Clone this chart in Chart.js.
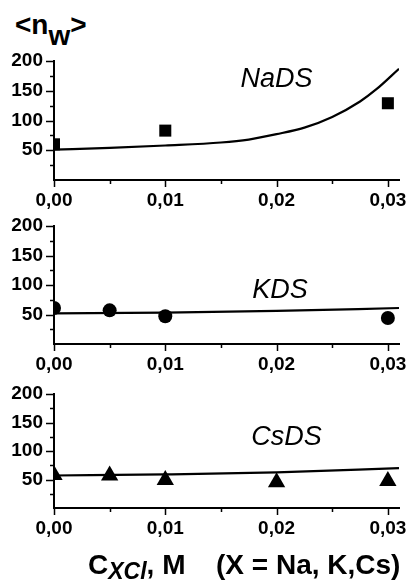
<!DOCTYPE html>
<html>
<head>
<meta charset="utf-8">
<script src="https://cdn.jsdelivr.net/npm/chart.js@4.4.1/dist/chart.umd.min.js"></script>
<style>
  body { margin: 0; background: #fff; }
  #wrap { position: relative; width: 409px; height: 582px; overflow: hidden;
          font-family: "Liberation Sans", Arial, sans-serif; color: #000; }
  canvas { position: absolute; left: 0; }
  .ytitle { position: absolute; left: 15px; top: 11px; font-size: 28px; line-height: 28px; font-weight: bold; white-space: nowrap; }
  .ytitle .sub { position: relative; top: 11px; }
  .xtitle { position: absolute; top: 551px; font-size: 28px; line-height: 28px; font-weight: bold; white-space: nowrap; }
  .xtitle .sub { font-size: 23px; font-style: italic; position: relative; top: 5px; }
</style>
</head>
<body>
<div id="wrap">
  <div class="ytitle">&lt;n<span class="sub">w</span>&gt;</div>
  <canvas id="na" width="409" height="215" style="top:0px"></canvas>
  <canvas id="k" width="409" height="165" style="top:215px"></canvas>
  <canvas id="cs" width="409" height="202" style="top:380px"></canvas>
  <div class="xtitle" style="left:88px">C<span class="sub">XCl</span>, M</div>
  <div class="xtitle" style="left:216px">(X = Na, K,Cs)</div>
</div>
<script>
// salt concentration, M
const naConc = [0, 0.01, 0.03];
const naNw = [60, 83, 129];
const naFitConc = [0, 0.005, 0.01, 0.015, 0.0175, 0.02, 0.0225, 0.025, 0.0275, 0.029, 0.031];
const naFitNw = [51, 54, 58, 63, 68, 77, 88, 106, 132, 153, 187];

const kConc = [0, 0.005, 0.01, 0.03];
const kNw = [61, 57, 47, 44];
const kFitConc = [0, 0.01, 0.02, 0.031];
const kFitNw = [52, 53.3, 56, 61];

const csConc = [0, 0.005, 0.01, 0.02, 0.03];
const csNw = [58, 57, 49, 45, 47.5];
const csFitConc = [0, 0.01, 0.02, 0.031];
const csFitNw = [57, 59, 62.5, 70];

const xTicks = [0, 0.01, 0.02, 0.03];
const yTicks = [0, 50, 100, 150, 200];

const toPoints = (xs, ys) => xs.map((x, i) => ({ x: x, y: ys[i] }));
const tickFont = { family: '"Liberation Sans", Arial, sans-serif', size: 19, weight: 'bold' };

// short outward ticks: long ones at the labels, short ones halfway between
const axisTicks = {
  id: 'axisTicks',
  afterDraw(chart) {
    const { ctx, chartArea: a, scales: { x, y } } = chart;
    ctx.save();
    ctx.strokeStyle = '#000';
    ctx.lineWidth = 1.5;
    ctx.beginPath();
    const xv = x.ticks.map(t => t.value);
    xv.forEach((v, i) => {
      const p = Math.round(x.getPixelForValue(v)) + 0.5;
      ctx.moveTo(p, a.bottom); ctx.lineTo(p, a.bottom + 7);
      if (i < xv.length - 1) {
        const m = Math.round(x.getPixelForValue((v + xv[i + 1]) / 2)) + 0.5;
        ctx.moveTo(m, a.bottom); ctx.lineTo(m, a.bottom + 4);
      }
    });
    const yv = y.ticks.map(t => t.value);
    yv.forEach((v, i) => {
      const p = Math.round(y.getPixelForValue(v)) + 0.5;
      if (v !== 0) { ctx.moveTo(a.left, p); ctx.lineTo(a.left - 8, p); }
      if (i < yv.length - 1) {
        const m = Math.round(y.getPixelForValue((v + yv[i + 1]) / 2)) + 0.5;
        ctx.moveTo(a.left, m); ctx.lineTo(a.left - 4, m);
      }
    });
    ctx.stroke();
    ctx.restore();
  }
};

// italic name of the surfactant inside each panel
const panelLabel = {
  id: 'panelLabel',
  afterDraw(chart, args, opts) {
    const { ctx, scales: { x, y } } = chart;
    ctx.save();
    ctx.font = 'italic 27px "Liberation Sans", Arial, sans-serif';
    ctx.fillStyle = '#000';
    ctx.textAlign = 'center';
    ctx.textBaseline = 'alphabetic';
    ctx.fillText(opts.text, x.getPixelForValue(opts.x), y.getPixelForValue(opts.y));
    ctx.restore();
  }
};

function makePanel(id, pts, fit, style, radius, label, padTop, xHeight) {
  return new Chart(document.getElementById(id), {
    type: 'scatter',
    data: {
      datasets: [
        {
          data: fit,
          showLine: true,
          borderColor: '#000',
          borderWidth: 2.2,
          pointRadius: 0,
          cubicInterpolationMode: 'monotone',
          clip: 0
        },
        {
          data: pts,
          pointStyle: style,
          pointRadius: radius,
          pointBackgroundColor: '#000',
          pointBorderColor: '#000',
          pointBorderWidth: 0,
          clip: 0
        }
      ]
    },
    options: {
      responsive: false,
      animation: false,
      events: [],
      layout: { padding: { top: padTop, left: 0, right: 10, bottom: 0 } },
      plugins: {
        legend: { display: false },
        tooltip: { enabled: false },
        panelLabel: label
      },
      scales: {
        x: {
          type: 'linear',
          min: 0,
          max: 0.031,
          afterFit: s => { s.height = xHeight; s.paddingLeft = 0; s.paddingRight = 0; },
          afterBuildTicks: s => { s.ticks = xTicks.map(v => ({ value: v })); },
          border: { display: true, color: '#000', width: 2 },
          grid: { drawOnChartArea: false, drawTicks: false },
          ticks: {
            padding: 9,
            color: '#000',
            font: tickFont,
            maxRotation: 0,
            callback: v => v.toFixed(2).replace('.', ',')
          }
        },
        y: {
          type: 'linear',
          min: 0,
          max: 200,
          afterFit: s => { s.width = 54; s.paddingTop = 0; s.paddingBottom = 0; },
          afterBuildTicks: s => { s.ticks = yTicks.map(v => ({ value: v })); },
          border: { display: true, color: '#000', width: 2 },
          grid: { drawOnChartArea: false, drawTicks: false },
          ticks: {
            padding: 11,
            color: '#000',
            font: tickFont,
            callback: v => (v === 0 ? '' : String(v))
          }
        }
      }
    },
    plugins: [axisTicks, panelLabel]
  });
}

makePanel('na', toPoints(naConc, naNw), toPoints(naFitConc, naFitNw), 'rect', 8.5,
  { text: 'NaDS', x: 0.02, y: 156 }, 61, 35);
makePanel('k', toPoints(kConc, kNw), toPoints(kFitConc, kFitNw), 'circle', 7,
  { text: 'KDS', x: 0.0203, y: 78 }, 11, 36);
makePanel('cs', toPoints(csConc, csNw), toPoints(csFitConc, csFitNw), 'triangle', 10,
  { text: 'CsDS', x: 0.0209, y: 111 }, 14, 74);
</script>
</body>
</html>
